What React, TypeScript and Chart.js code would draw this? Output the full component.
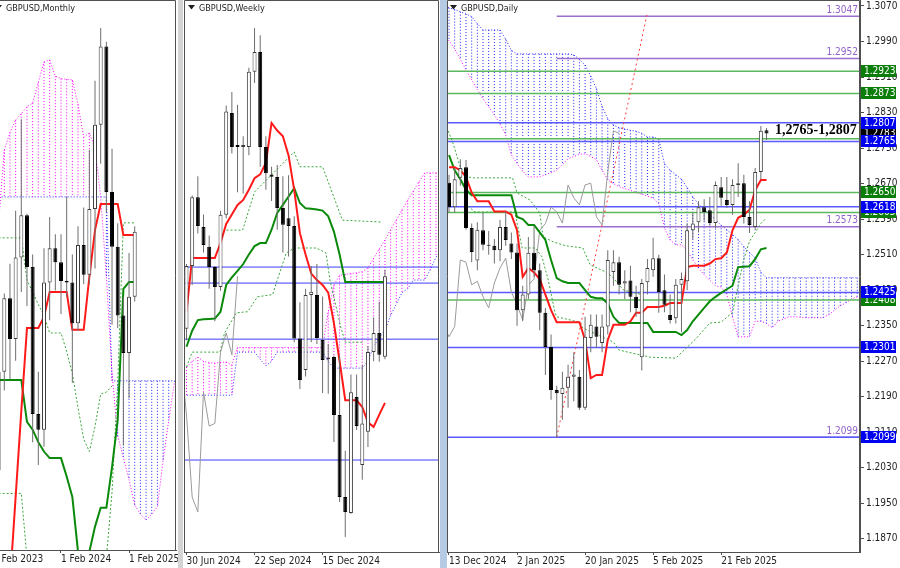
import React, { useEffect, useRef } from "react";
import { Chart, registerables } from "chart.js";

Chart.register(...registerables);

const FONT = "'Liberation Sans Narrow', 'DejaVu Sans Condensed', 'Liberation Sans', Arial, sans-serif";
const SHIFT = 26;

// ================= MONTHLY (index 0 = Feb 2024) =================
const mStart = -12;
const mOpen = [1.2320, 1.2020, 1.2335, 1.2570, 1.2440, 1.2700, 1.2835, 1.2670, 1.2200, 1.2150, 1.2620, 1.2730, 1.2685, 1.2625, 1.2620, 1.2490, 1.2740, 1.2645, 1.2855, 1.3125, 1.3375, 1.2910, 1.2735, 1.2515, 1.2395, 1.2575];
const mHigh = [1.2400, 1.2425, 1.2585, 1.2680, 1.2850, 1.3142, 1.2840, 1.2710, 1.2335, 1.2730, 1.2830, 1.2775, 1.2775, 1.2895, 1.2710, 1.2800, 1.2860, 1.3045, 1.3265, 1.3434, 1.3390, 1.3048, 1.2810, 1.2575, 1.2715, 1.2800];
const mLow = [1.1915, 1.1800, 1.2275, 1.2310, 1.2370, 1.2590, 1.2545, 1.2110, 1.2037, 1.2095, 1.2500, 1.2595, 1.2520, 1.2575, 1.2300, 1.2465, 1.2615, 1.2615, 1.2665, 1.3000, 1.2845, 1.2485, 1.2475, 1.2099, 1.2250, 1.2560];
const mClose = [1.2020, 1.2335, 1.2570, 1.2440, 1.2700, 1.2835, 1.2670, 1.2200, 1.2150, 1.2620, 1.2730, 1.2685, 1.2625, 1.2620, 1.2490, 1.2740, 1.2645, 1.2855, 1.3125, 1.3375, 1.2910, 1.2735, 1.2515, 1.2395, 1.2575, 1.2783];
const mTenkanStart = -9;
const mTenkan = [1.1660, 1.1935, 1.2210, 1.2475, 1.2475, 1.2475, 1.2510, 1.2590, 1.2590, 1.2590, 1.2590, 1.2469, 1.2469, 1.2469, 1.2638, 1.2788, 1.2871, 1.2871, 1.2871, 1.2871, 1.2772, 1.2772, 1.2772];
const mKijunStart = -11;
const mKijun = [1.2309, 1.2309, 1.2309, 1.2309, 1.2309, 1.2175, 1.2150, 1.2110, 1.2080, 1.2059, 1.2059, 1.2059, 1.2000, 1.1935, 1.1760, 1.1760, 1.1760, 1.1840, 1.1900, 1.1900, 1.2030, 1.2181, 1.2600, 1.2622, 1.2622];
const mSpanStart = -12;
const mSpanA = [1.2600, 1.2814, 1.3044, 1.3100, 1.3140, 1.3160, 1.3182, 1.3194, 1.3260, 1.3325, 1.3332, 1.3280, 1.3272, 1.3270, 1.3268, 1.3190, 1.3085, 1.3098, 1.3050, 1.2894, 1.2640, 1.2330, 1.2130, 1.2060, 1.1990, 1.1909, 1.1880, 1.1861, 1.1880, 1.1903, 1.2050, 1.2180, 1.2300];
const mSpanB = [1.2894, 1.2894, 1.2894, 1.2894, 1.2894, 1.2894, 1.2894, 1.2894, 1.2894, 1.2894, 1.2894, 1.2894, 1.2894, 1.2894, 1.2894, 1.2894, 1.2894, 1.2894, 1.2894, 1.2894, 1.2894, 1.2306, 1.2306, 1.2306, 1.2306, 1.2306, 1.2306, 1.2306, 1.2306, 1.2306, 1.2306, 1.2306, 1.2306];
const mDotStart = -11;
const mDotA = [1.2763, 1.2763, 1.2763, 1.2763, 1.2763, 1.2628, 1.2590, 1.2550, 1.2515, 1.2459, 1.2459, 1.2459, 1.2400, 1.2330, 1.2220, 1.2120, 1.2080, 1.2160, 1.2264, 1.2270, 1.2290];
const mDotB = [1.1946, 1.1946, 1.1946, 1.1946, 1.1946, 1.1740, null, null, null, null, null, null, null, null, null, null, null, null, null, 1.1740, 1.1950, 1.2300, 1.2811, 1.2811, 1.2811];
const mTickIdx = [-12, 0, 12];
const mTickLabels = ["1 Feb 2023", "1 Feb 2024", "1 Feb 2025"];

// ================= WEEKLY (index 0 = 30 Jun 2024) =================
const wOpen = [1.2645, 1.2810, 1.2990, 1.2912, 1.2860, 1.2807, 1.2755, 1.2944, 1.3211, 1.3127, 1.3122, 1.3122, 1.3319, 1.3371, 1.3122, 1.3050, 1.3043, 1.2962, 1.2935, 1.2915, 1.2620, 1.2537, 1.2734, 1.2734, 1.2616, 1.2565, 1.2571, 1.2419, 1.2204, 1.2162, 1.2466, 1.2288, 1.2375, 1.2584, 1.2634, 1.2572];
const wHigh = [1.2815, 1.2995, 1.3045, 1.2945, 1.2890, 1.2810, 1.2955, 1.3231, 1.3266, 1.3233, 1.3150, 1.3330, 1.3434, 1.3415, 1.3150, 1.3070, 1.3075, 1.3045, 1.3048, 1.2940, 1.2715, 1.2750, 1.2810, 1.2815, 1.2730, 1.2605, 1.2575, 1.2575, 1.2325, 1.2525, 1.2525, 1.2550, 1.2600, 1.2675, 1.2716, 1.2800];
const wLow = [1.2615, 1.2760, 1.2895, 1.2845, 1.2750, 1.2665, 1.2745, 1.2935, 1.3105, 1.3003, 1.3000, 1.3100, 1.3290, 1.3070, 1.3010, 1.2980, 1.2905, 1.2845, 1.2835, 1.2610, 1.2487, 1.2520, 1.2610, 1.2605, 1.2477, 1.2475, 1.2348, 1.2191, 1.2099, 1.2160, 1.2380, 1.2249, 1.2335, 1.2560, 1.2559, 1.2565];
const wClose = [1.2810, 1.2990, 1.2915, 1.2865, 1.2807, 1.2755, 1.2944, 1.3215, 1.3122, 1.3122, 1.3127, 1.3319, 1.3371, 1.3122, 1.3053, 1.3044, 1.2962, 1.2918, 1.2915, 1.2620, 1.2511, 1.2734, 1.2742, 1.2621, 1.2563, 1.2570, 1.2419, 1.2204, 1.2165, 1.2479, 1.2390, 1.2397, 1.2584, 1.2634, 1.2577, 1.2783];
const wTenkan = [1.2690, 1.2831, 1.2831, 1.2831, 1.2831, 1.2831, 1.2870, 1.2920, 1.2945, 1.2970, 1.2983, 1.3010, 1.3040, 1.3050, 1.3080, 1.3185, 1.3165, 1.3150, 1.3100, 1.3009, 1.2896, 1.2840, 1.2790, 1.2773, 1.2760, 1.2740, 1.2660, 1.2560, 1.2458, 1.2458, 1.2458, 1.2440, 1.2400, 1.2388, 1.2420, 1.2451];
const wKijun = [1.2598, 1.2640, 1.2668, 1.2670, 1.2671, 1.2672, 1.2690, 1.2760, 1.2780, 1.2797, 1.2815, 1.2840, 1.2862, 1.2870, 1.2870, 1.2905, 1.2949, 1.2970, 1.2992, 1.3014, 1.2975, 1.2961, 1.2960, 1.2958, 1.2955, 1.2940, 1.2900, 1.2840, 1.2768, 1.2768, 1.2768, 1.2768, 1.2768, 1.2768, 1.2768, 1.2768];
const wSpanStart = -1;
const wSpanA = [1.2540, 1.2545, 1.2560, 1.2571, 1.2560, 1.2556, 1.2555, 1.2557, 1.2558, 1.2550, 1.2596, 1.2596, 1.2596, 1.2596, 1.2596, 1.2596, 1.2596, 1.2596, 1.2596, 1.2596, 1.2596, 1.2596, 1.2596, 1.2596, 1.2596, 1.2596, 1.2690, 1.2760, 1.2785, 1.2788, 1.2790, 1.2792, 1.2795, 1.2805, 1.2830, 1.2855, 1.2878, 1.2905, 1.2930, 1.2957, 1.2982, 1.3006, 1.3030, 1.3054, 1.3054, 1.3054, 1.3054];
const wSpanB = [1.2471, 1.2471, 1.2471, 1.2471, 1.2471, 1.2471, 1.2471, 1.2471, 1.2471, 1.2471, 1.2584, 1.2584, 1.2584, 1.2584, 1.2565, 1.2548, 1.2560, 1.2584, 1.2584, 1.2584, 1.2584, 1.2584, 1.2584, 1.2584, 1.2584, 1.2584, 1.2560, 1.2542, 1.2542, 1.2542, 1.2542, 1.2542, 1.2542, 1.2560, 1.2600, 1.2620, 1.2642, 1.2680, 1.2710, 1.2740, 1.2750, 1.2773, 1.2773, 1.2773, 1.2800, 1.2833, 1.2850];
const wDotAx = [6, 6.7, 9.9, 12, 19, 20, 24, 27.5, 34.5];
const wDotAy = [1.2880, 1.2904, 1.2904, 1.3004, 1.3109, 1.3070, 1.3070, 1.2930, 1.2925];
const wDotBx = [0, 1, 5.9, 6.7, 8.8, 10.8, 12.5, 15.2, 16, 17.6, 19, 22.9, 24.6, 25.3, 27.2, 28, 31];
const wDotBy = [1.2545, 1.2584, 1.2584, 1.2634, 1.2687, 1.2690, 1.2729, 1.2735, 1.2773, 1.2844, 1.2857, 1.2857, 1.2844, 1.2773, 1.2650, 1.2610, 1.2610];
const wLevels = [1.2807, 1.2765, 1.2618, 1.2301];
const wTickIdx = [0, 12, 24];
const wTickLabels = ["30 Jun 2024", "22 Sep 2024", "15 Dec 2024"];

// ================= DAILY (index 0 = 13 Dec 2024) =================
const dOpen = [1.2672, 1.2617, 1.2683, 1.2707, 1.2570, 1.2497, 1.2565, 1.2532, 1.2530, 1.2520, 1.2572, 1.2535, 1.2515, 1.2385, 1.2420, 1.2514, 1.2475, 1.2379, 1.2302, 1.2205, 1.2196, 1.2210, 1.2235, 1.2235, 1.2165, 1.2322, 1.2348, 1.2311, 1.2348, 1.2471, 1.2493, 1.2445, 1.2452, 1.2415, 1.2279, 1.2448, 1.2475, 1.2502, 1.2430, 1.2374, 1.2367, 1.2442, 1.2450, 1.2565, 1.2583, 1.2617, 1.2610, 1.2581, 1.2662, 1.2633, 1.2622, 1.2667, 1.2671, 1.2595, 1.2572, 1.2696, 1.2790];
const dHigh = [1.2690, 1.2705, 1.2725, 1.2723, 1.2580, 1.2583, 1.2605, 1.2563, 1.2545, 1.2588, 1.2607, 1.2560, 1.2535, 1.2440, 1.2550, 1.2575, 1.2490, 1.2390, 1.2330, 1.2215, 1.2246, 1.2262, 1.2290, 1.2250, 1.2370, 1.2375, 1.2375, 1.2375, 1.2520, 1.2520, 1.2505, 1.2475, 1.2485, 1.2440, 1.2455, 1.2500, 1.2548, 1.2510, 1.2465, 1.2420, 1.2455, 1.2470, 1.2580, 1.2605, 1.2630, 1.2635, 1.2640, 1.2675, 1.2685, 1.2685, 1.2680, 1.2716, 1.2690, 1.2630, 1.2705, 1.2800, 1.2795];
const dLow = [1.2605, 1.2605, 1.2665, 1.2566, 1.2493, 1.2475, 1.2520, 1.2510, 1.2490, 1.2495, 1.2530, 1.2500, 1.2350, 1.2360, 1.2410, 1.2460, 1.2340, 1.2239, 1.2183, 1.2099, 1.2138, 1.2165, 1.2180, 1.2160, 1.2160, 1.2290, 1.2300, 1.2290, 1.2330, 1.2440, 1.2420, 1.2410, 1.2380, 1.2370, 1.2249, 1.2420, 1.2460, 1.2379, 1.2380, 1.2355, 1.2355, 1.2335, 1.2430, 1.2545, 1.2560, 1.2585, 1.2575, 1.2570, 1.2620, 1.2615, 1.2600, 1.2640, 1.2580, 1.2559, 1.2565, 1.2680, 1.2768];
const dClose = [1.2617, 1.2680, 1.2705, 1.2570, 1.2516, 1.2566, 1.2532, 1.2530, 1.2520, 1.2572, 1.2543, 1.2515, 1.2385, 1.2420, 1.2514, 1.2475, 1.2379, 1.2302, 1.2205, 1.2198, 1.2210, 1.2235, 1.2240, 1.2165, 1.2325, 1.2352, 1.2325, 1.2348, 1.2498, 1.2493, 1.2442, 1.2450, 1.2415, 1.2390, 1.2446, 1.2480, 1.2502, 1.2426, 1.2397, 1.2363, 1.2442, 1.2455, 1.2565, 1.2580, 1.2617, 1.2606, 1.2581, 1.2667, 1.2638, 1.2622, 1.2667, 1.2671, 1.2595, 1.2577, 1.2696, 1.2789, 1.2783];
const dTenkan = [1.2707, 1.2707, 1.2700, 1.2685, 1.2650, 1.2630, 1.2630, 1.2630, 1.2607, 1.2607, 1.2607, 1.2600, 1.2565, 1.2460, 1.2480, 1.2470, 1.2455, 1.2420, 1.2385, 1.2358, 1.2358, 1.2358, 1.2358, 1.2358, 1.2318, 1.2232, 1.2239, 1.2239, 1.2318, 1.2352, 1.2352, 1.2352, 1.2360, 1.2379, 1.2379, 1.2392, 1.2392, 1.2392, 1.2395, 1.2401, 1.2401, 1.2401, 1.2482, 1.2485, 1.2485, 1.2485, 1.2490, 1.2500, 1.2502, 1.2515, 1.2565, 1.2593, 1.2600, 1.2611, 1.2655, 1.2678, 1.2678];
const dKijun = [1.2734, 1.2700, 1.2680, 1.2656, 1.2644, 1.2644, 1.2644, 1.2644, 1.2644, 1.2644, 1.2644, 1.2644, 1.2595, 1.2590, 1.2577, 1.2577, 1.2560, 1.2543, 1.2498, 1.2457, 1.2450, 1.2446, 1.2446, 1.2446, 1.2430, 1.2415, 1.2412, 1.2412, 1.2400, 1.2370, 1.2356, 1.2356, 1.2356, 1.2356, 1.2356, 1.2356, 1.2336, 1.2336, 1.2336, 1.2336, 1.2336, 1.2329, 1.2340, 1.2360, 1.2375, 1.2390, 1.2405, 1.2415, 1.2424, 1.2432, 1.2440, 1.2482, 1.2483, 1.2484, 1.2500, 1.2522, 1.2525];
const dSpanStart = -1;
const dSpanA = [1.3010, 1.2992, 1.2973, 1.2950, 1.2926, 1.2904, 1.2882, 1.2861, 1.2843, 1.2825, 1.2804, 1.2780, 1.2735, 1.2715, 1.2698, 1.2685, 1.2685, 1.2685, 1.2690, 1.2695, 1.2700, 1.2713, 1.2726, 1.2731, 1.2736, 1.2737, 1.2731, 1.2724, 1.2700, 1.2679, 1.2670, 1.2663, 1.2659, 1.2655, 1.2650, 1.2646, 1.2642, 1.2637, 1.2625, 1.2570, 1.2543, 1.2532, 1.2532, 1.2520, 1.2498, 1.2480, 1.2465, 1.2452, 1.2440, 1.2437, 1.2420, 1.2370, 1.2325, 1.2325, 1.2325, 1.2360, 1.2360, 1.2355, 1.2345, 1.2360, 1.2365, 1.2370, 1.2370, 1.2369, 1.2368, 1.2368, 1.2368, 1.2368, 1.2375, 1.2385, 1.2395, 1.2401, 1.2410, 1.2415];
const dSpanB = [1.3075, 1.3066, 1.3062, 1.3057, 1.3052, 1.3046, 1.3030, 1.3016, 1.3016, 1.3016, 1.3016, 1.2995, 1.2970, 1.2962, 1.2962, 1.2962, 1.2962, 1.2962, 1.2962, 1.2962, 1.2962, 1.2962, 1.2962, 1.2960, 1.2950, 1.2937, 1.2912, 1.2884, 1.2844, 1.2816, 1.2802, 1.2796, 1.2793, 1.2790, 1.2788, 1.2783, 1.2775, 1.2775, 1.2770, 1.2715, 1.2700, 1.2690, 1.2680, 1.2661, 1.2640, 1.2624, 1.2612, 1.2600, 1.2589, 1.2576, 1.2566, 1.2555, 1.2544, 1.2528, 1.2515, 1.2502, 1.2470, 1.2458, 1.2458, 1.2458, 1.2458, 1.2458, 1.2458, 1.2458, 1.2458, 1.2458, 1.2458, 1.2458, 1.2458, 1.2458, 1.2458, 1.2458, 1.2458, 1.2458];
const dDotAx = [-0.4, 0.7, 2, 3.2, 4.3, 11.2, 12, 14.3, 16, 16.6, 18.5, 20.6, 23.6, 24.9, 28, 29, 30.8, 34];
const dDotAy = [1.2797, 1.2761, 1.2707, 1.2685, 1.2683, 1.2683, 1.2649, 1.2633, 1.2604, 1.2550, 1.2538, 1.2530, 1.2525, 1.2487, 1.2469, 1.2457, 1.2430, 1.2420];
const dDotBx = [2.8, 4.6, 11.6, 12.9, 15.2, 16.4, 17.5, 18.7, 19, 23, 23.6, 29, 30, 35.5, 40, 43.5, 46, 48, 50, 51, 52, 53, 54, 55, 56];
const dDotBy = [1.2625, 1.2606, 1.2606, 1.2525, 1.2525, 1.2505, 1.2453, 1.2379, 1.2370, 1.2358, 1.2345, 1.2313, 1.2295, 1.2279, 1.2277, 1.2320, 1.2356, 1.2358, 1.2380, 1.2440, 1.2500, 1.2540, 1.2560, 1.2580, 1.2593];
const dTrendX = [19, 34.9];
const dTrendY = [1.2099, 1.3050];
const dLevelVals = [1.2923, 1.2873, 1.2807, 1.2771, 1.2765, 1.2650, 1.2618, 1.2605, 1.2425, 1.2408, 1.2301, 1.2099];
const dLevelKinds = ["g", "g", "b", "g", "b", "g", "b", "g", "b", "g", "b", "b"];
const dFiboVals = [1.3047, 1.2952, 1.2573, 1.2099];
const dFiboStart = 19;
const dCurrent = 1.2783;
const dZoneText = "1,2765-1,2807";
const dTicks = [1.3070, 1.2990, 1.2910, 1.2830, 1.2750, 1.2670, 1.2590, 1.2510, 1.2430, 1.2350, 1.2270, 1.2190, 1.2110, 1.2030, 1.1950, 1.1870];
const dTickIdx = [0, 12, 24, 36, 48];
const dTickLabels = ["13 Dec 2024", "2 Jan 2025", "20 Jan 2025", "5 Feb 2025", "21 Feb 2025"];

// ================= helpers =================
const RED = "#ff1a1a";
const KGREEN = "#0a8a0a";
const DOTGREEN = "#3aa63a";
const GRAY = "#9a9a9a";
const MAGENTA = "#ff00ff";
const BLUE = "#2323ff";

const seq = (start: number, vals: (number | null)[]) => vals.map((y, i) => ({ x: start + i, y }));
const pairs = (xs: number[], ys: number[]) => xs.map((x, i) => ({ x, y: ys[i] }));
const chikou = (closes: number[]) => closes.map((y, i) => ({ x: i - SHIFT, y }));

function candles(start: number, o: number[], h: number[], l: number[], c: number[]): any[] {
  const up = o.map((v, i) => c[i] >= v);
  return [
    {
      type: "bar",
      data: o.map((_, i) => ({ x: start + i, y: [o[i], c[i]] })),
      backgroundColor: up.map((u) => (u ? "#ffffff" : "#000000")),
      borderColor: up.map((u) => (u ? "#3c3c3c" : "#000000")),
      borderWidth: 1,
      borderSkipped: false,
      barThickness: 4,
      grouped: false,
      minBarLength: 1,
      inflateAmount: 0,
      order: 0,
    },
    {
      type: "bar",
      data: o.map((_, i) => ({ x: start + i, y: [l[i], h[i]] })),
      backgroundColor: "#6e6e6e",
      borderWidth: 0,
      barThickness: 1,
      grouped: false,
      inflateAmount: 0,
      order: 1,
    },
  ];
}

function ln(data: any[], color: string, width: number, dash: number[], order: number): any {
  return {
    type: "line",
    data,
    borderColor: color,
    borderWidth: width,
    borderDash: dash,
    pointRadius: 0,
    pointHoverRadius: 0,
    fill: false,
    tension: 0,
    spanGaps: false,
    order,
  };
}

// Ichimoku cloud: dotted vertical columns at every bar between span A and span B,
// magenta where A is above B, blue where B is above A; plus dotted span lines.
function cloud(start: number, a: number[], b: number[]): any[] {
  const upCols: any[] = [];
  const dnCols: any[] = [];
  a.forEach((va, i) => {
    const vb = b[i];
    const x = start + i;
    const dest = va >= vb ? upCols : dnCols;
    dest.push({ x, y: Math.max(va, vb) }, { x, y: Math.min(va, vb) }, { x, y: null });
  });
  return [
    ln(upCols, MAGENTA, 1, [1, 2], 7),
    ln(dnCols, BLUE, 1, [1, 2], 7),
    ln(seq(start, a), MAGENTA, 1, [1, 2], 8),
    ln(seq(start, b), BLUE, 1, [1, 2], 9),
  ];
}

function xAxis(min: number, max: number, idx: number[], labels: string[], h: number): any {
  return {
    type: "linear",
    min,
    max,
    offset: false,
    afterBuildTicks: (s: any) => {
      s.ticks = idx.map((v) => ({ value: v }));
    },
    afterFit: (s: any) => {
      s.height = h;
      s.paddingLeft = 0;
      s.paddingRight = 0;
    },
    ticks: {
      autoSkip: false,
      maxRotation: 0,
      minRotation: 0,
      align: "start",
      padding: 0,
      color: "#1e1e1e",
      font: { family: FONT, size: 10 },
      callback: (v: any) => {
        const k = idx.indexOf(Number(v));
        return k >= 0 ? labels[k] : "";
      },
    },
    grid: { display: true, drawOnChartArea: false, drawTicks: true, tickLength: 3, color: "#505050", offset: false },
    border: { display: true, color: "#505050" },
  };
}

function framePlugin(drawLeft: boolean) {
  return {
    id: "frame",
    afterDatasetsDraw(chart: any) {
      const { ctx, chartArea: a } = chart;
      ctx.save();
      ctx.strokeStyle = "#505050";
      ctx.lineWidth = 1;
      ctx.beginPath();
      if (drawLeft) {
        ctx.moveTo(a.left + 0.5, a.bottom);
        ctx.lineTo(a.left + 0.5, a.top + 0.5);
      } else {
        ctx.moveTo(a.left, a.top + 0.5);
      }
      ctx.lineTo(a.right - 0.5, a.top + 0.5);
      ctx.lineTo(a.right - 0.5, a.bottom);
      ctx.stroke();
      ctx.restore();
    },
  };
}

function titlePlugin(text: string, tx: number) {
  return {
    id: "ptitle",
    afterDraw(chart: any) {
      const ctx = chart.ctx;
      ctx.save();
      ctx.fillStyle = "#1e1e1e";
      ctx.beginPath();
      ctx.moveTo(tx - 11, 5);
      ctx.lineTo(tx - 4, 5);
      ctx.lineTo(tx - 7.5, 9.5);
      ctx.closePath();
      ctx.fill();
      ctx.font = `9px ${FONT}`;
      ctx.textAlign = "left";
      ctx.textBaseline = "alphabetic";
      ctx.fillText(text, tx, 10.5);
      ctx.restore();
    },
  };
}

const baseOptions = (padL: number, padR: number): any => ({
  responsive: false,
  animation: false,
  devicePixelRatio: 1,
  events: [],
  layout: { padding: { left: padL, right: padR, top: 0, bottom: 0 }, autoPadding: false },
  plugins: { legend: { display: false }, tooltip: { enabled: false } },
});

// ================= chart builders =================
function buildMonthly(cv: HTMLCanvasElement) {
  const datasets: any[] = [
    ...candles(mStart, mOpen, mHigh, mLow, mClose),
    ln(seq(mTenkanStart, mTenkan), RED, 2, [], 2),
    ln(seq(mKijunStart, mKijun), KGREEN, 2, [], 3),
    ln(seq(mDotStart, mDotA), DOTGREEN, 1, [2, 2], 5),
    ln(seq(mDotStart, mDotB), DOTGREEN, 1, [2, 2], 5),
    ...cloud(mSpanStart, mSpanA, mSpanB),
  ];
  return new Chart(cv, {
    type: "line",
    data: { datasets },
    options: {
      ...baseOptions(0, 2),
      scales: {
        x: xAxis(-10.758, 20.282, mTickIdx, mTickLabels, 18),
        y: { type: "linear", min: 1.17652, max: 1.35235, display: false },
      },
    },
    plugins: [framePlugin(false), titlePlugin("GBPUSD,Monthly", 6)],
  } as any);
}

function buildWeekly(cv: HTMLCanvasElement) {
  const datasets: any[] = [
    ...candles(0, wOpen, wHigh, wLow, wClose),
    ln(seq(0, wTenkan), RED, 2, [], 2),
    ln(seq(0, wKijun), KGREEN, 2, [], 3),
    ln(chikou(wClose), GRAY, 1, [], 4),
    ln(pairs(wDotAx, wDotAy), DOTGREEN, 1, [2, 2], 5),
    ln(pairs(wDotBx, wDotBy), DOTGREEN, 1, [2, 2], 5),
    ...wLevels.map((v) => ln([{ x: -5, y: v }, { x: 60, y: v }], "#3d3dff", 1, [], 6)),
    ...cloud(wSpanStart, wSpanA, wSpanB),
  ];
  return new Chart(cv, {
    type: "line",
    data: { datasets },
    options: {
      ...baseOptions(1, 1),
      scales: {
        x: xAxis(-0.441, 44.533, wTickIdx, wTickLabels, 16),
        y: { type: "linear", min: 1.20598, max: 1.35074, display: false },
      },
    },
    plugins: [framePlugin(true), titlePlugin("GBPUSD,Weekly", 16)],
  } as any);
}

const dailyLabelsPlugin = {
  id: "dlabels",
  afterDraw(chart: any) {
    const { ctx, chartArea } = chart;
    const y = chart.scales.y;
    const right = chartArea.right;
    ctx.save();
    ctx.font = `10px ${FONT}`;
    ctx.fillStyle = "#8f63c9";
    ctx.textAlign = "right";
    ctx.textBaseline = "bottom";
    dFiboVals.forEach((v) => ctx.fillText(v.toFixed(4), right - 2, y.getPixelForValue(v) - 1));
    ctx.font = "bold 14px 'Liberation Serif', 'DejaVu Serif', serif";
    ctx.fillStyle = "#000000";
    ctx.textAlign = "left";
    ctx.textBaseline = "alphabetic";
    ctx.fillText(dZoneText, right - 85, y.getPixelForValue(dCurrent) + 1);
    ctx.font = `10px ${FONT}`;
    ctx.textBaseline = "middle";
    const box = (v: number, bg: string) => {
      const py = Math.round(y.getPixelForValue(v));
      ctx.fillStyle = bg;
      ctx.fillRect(right + 1, py - 6, 35, 12);
      ctx.fillStyle = "#ffffff";
      ctx.fillText(v.toFixed(4), right + 4, py + 0.5);
    };
    dLevelVals.forEach((v, i) => {
      if (dLevelKinds[i] === "g") box(v, "#0b7d0b");
    });
    box(dCurrent, "#000000");
    dLevelVals.forEach((v, i) => {
      if (dLevelKinds[i] === "b") box(v, "#0000f0");
    });
    ctx.restore();
  },
};

function buildDaily(cv: HTMLCanvasElement) {
  const datasets: any[] = [
    ...candles(0, dOpen, dHigh, dLow, dClose),
    ln(seq(0, dTenkan), RED, 2, [], 2),
    ln(seq(0, dKijun), KGREEN, 2, [], 3),
    ln(chikou(dClose), GRAY, 1, [], 4),
    ln(pairs(dDotAx, dDotAy), DOTGREEN, 1, [2, 2], 5),
    ln(pairs(dDotBx, dDotBy), DOTGREEN, 1, [2, 2], 5),
    ln(pairs(dTrendX, dTrendY), "#ff3b3b", 1, [2, 3], 5),
    ...dLevelVals.map((v, i) =>
      ln([{ x: -5, y: v }, { x: 90, y: v }], dLevelKinds[i] === "g" ? "#5cb85c" : "#5a5aff", 1.5, [], 6)
    ),
    ...dFiboVals.map((v) => ln([{ x: dFiboStart, y: v }, { x: 90, y: v }], "#9b6fd0", 1.5, [], 6)),
    ...cloud(dSpanStart, dSpanA, dSpanB),
  ];
  return new Chart(cv, {
    type: "line",
    data: { datasets },
    options: {
      ...baseOptions(0, 0),
      scales: {
        x: xAxis(-0.3527, 72.487, dTickIdx, dTickLabels, 16),
        y: {
          type: "linear",
          position: "right",
          min: 1.18403,
          max: 1.30835,
          afterBuildTicks: (s: any) => {
            s.ticks = dTicks.map((v) => ({ value: v }));
          },
          afterFit: (s: any) => {
            s.width = 40;
            s.paddingTop = 0;
            s.paddingBottom = 0;
          },
          ticks: {
            autoSkip: false,
            padding: 2,
            color: "#1e1e1e",
            font: { family: FONT, size: 10 },
            callback: (v: any) => Number(v).toFixed(4),
          },
          grid: { display: true, drawOnChartArea: false, drawTicks: true, tickLength: 4, color: "#505050" },
          border: { display: true, color: "#505050" },
        },
      },
    },
    plugins: [framePlugin(true), titlePlugin("GBPUSD,Daily", 14), dailyLabelsPlugin],
  } as any);
}

function Panel({ left, width, build }: { left: number; width: number; build: (c: HTMLCanvasElement) => Chart }) {
  const ref = useRef<HTMLCanvasElement>(null);
  useEffect(() => {
    const chart = build(ref.current!);
    return () => chart.destroy();
  }, []);
  return (
    <canvas
      ref={ref}
      width={width}
      height={568}
      style={{ position: "absolute", left, top: 0, width, height: 568, display: "block" }}
    />
  );
}

export default function App() {
  return (
    <div style={{ position: "relative", width: 900, height: 568, background: "#ffffff", overflow: "hidden" }}>
      <style>{`body{margin:0;background:#ffffff;}`}</style>
      <Panel left={0} width={178} build={buildMonthly} />
      <div style={{ position: "absolute", left: 178, top: 0, width: 5, height: 568, background: "#d4d4d4" }} />
      <Panel left={183} width={257} build={buildWeekly} />
      <div style={{ position: "absolute", left: 440, top: 0, width: 7, height: 568, background: "#b5cbe3" }} />
      <Panel left={447} width={453} build={buildDaily} />
    </div>
  );
}
